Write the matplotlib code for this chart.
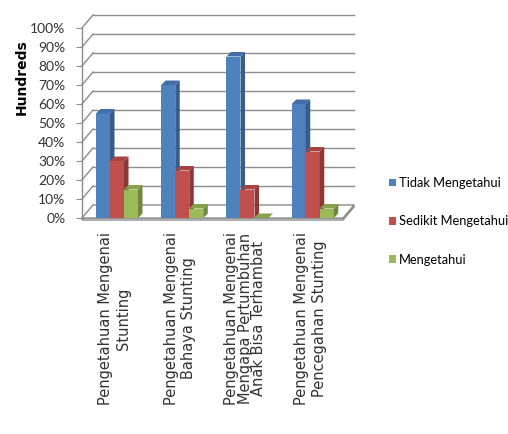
import matplotlib
matplotlib.use("Agg")
import matplotlib.pyplot as plt
from matplotlib.patches import Polygon, Patch

plt.rcParams['font.family'] = ['Lato', 'DejaVu Sans']

categories = [
    "Pengetahuan Mengenai\nStunting",
    "Pengetahuan Mengenai\nBahaya Stunting",
    "Pengetahuan Mengenai\nMengapa Pertumbuhan\nAnak Bisa Terhambat",
    "Pengetahuan Mengenai\nPencegahan Stunting",
]
series_names = ["Tidak Mengetahui", "Sedikit Mengetahui", "Mengetahui"]
tidak = [0.55, 0.70, 0.85, 0.60]
sedikit = [0.30, 0.25, 0.15, 0.35]
tahu = [0.15, 0.05, 0.00, 0.05]
yticks = [0.0, 0.1, 0.2, 0.3, 0.4, 0.5, 0.6, 0.7, 0.8, 0.9, 1.0]
ytick_labels = ["0%", "10%", "20%", "30%", "40%", "50%", "60%", "70%", "80%", "90%", "100%"]

# front, side, top colours (Office 2007 style)
colors = [
    ("#4F81BD", "#385D8A", "#416EA6"),
    ("#C0504D", "#8C3836", "#A64441"),
    ("#9BBB59", "#71893F", "#86A24B"),
]

W, H = 508, 434
fig = plt.figure(figsize=(W / 100, H / 100), dpi=100)
ax_l, ax_r, ax_b, ax_t = 82, 343, 218, 28
ax = fig.add_axes([ax_l / W, (H - ax_b) / H, (ax_r - ax_l) / W, (ax_b - ax_t) / H])
ax.set_xlim(-0.5, 3.5)
ax.set_ylim(0, 1)

# pixel -> data unit
ux = 4.0 / (ax_r - ax_l)
uy = 1.0 / (ax_b - ax_t)
wdx, wdy = 11 * ux, 13 * uy      # wall depth
bdx, bdy = 4.5 * ux, 4.5 * uy    # bar depth

grid_c = "#8C8C8C"
x0, x1 = -0.5, 3.5

# floor
ax.add_patch(Polygon([(x0, 0), (x1, 0), (x1 + wdx, wdy), (x0 + wdx, wdy)],
                     closed=True, fc="white", ec=grid_c, lw=1, zorder=1, clip_on=False))
ax.add_patch(Polygon([(x0, 0), (x1, 0), (x1 + wdx, wdy), (x1 + wdx, wdy - 2 * uy),
                      (x1, -2 * uy), (x0, -2 * uy)],
                     closed=True, fc="white", ec=grid_c, lw=1, zorder=0.9, clip_on=False))

# walls: gridlines on the back and side
for t in yticks[1:]:
    ax.plot([x0, x0 + wdx], [t, t + wdy], color=grid_c, lw=1, zorder=1, clip_on=False)
    ax.plot([x0 + wdx, x1 + wdx], [t + wdy, t + wdy], color=grid_c, lw=1, zorder=1, clip_on=False)
ax.plot([x0, x0], [0, 1], color=grid_c, lw=1, zorder=1, clip_on=False)

# bars
bw = 14 * ux
start = -14 * ux + 0.5
series = [tidak, sedikit, tahu]
for i, vals in enumerate(series):
    front, side, top = colors[i]
    lefts = [c - start + i * bw for c in range(len(categories))]
    ax.bar(lefts, vals, width=bw, align="edge", color=front, lw=0, zorder=3 + i)
    for left, h in zip(lefts, vals):
        r = left + bw
        ax.add_patch(Polygon([(r, 0), (r + bdx, bdy), (r + bdx, h + bdy), (r, h)],
                             closed=True, fc=side, ec="none", zorder=3 + i))
        ax.add_patch(Polygon([(left, h), (r, h), (r + bdx, h + bdy), (left + bdx, h + bdy)],
                             closed=True, fc=top, ec="none", zorder=3 + i))

for s in ax.spines.values():
    s.set_visible(False)
ax.set_yticks(yticks)
ax.set_yticklabels(ytick_labels, fontsize=10, color="#333333")
ax.tick_params(axis="y", length=4, color=grid_c, pad=8)
ax.set_xticks(range(len(categories)))
ax.set_xticklabels(categories, rotation=90, fontsize=10.5, color="#333333",
                   va="top", ha="center", multialignment="center", linespacing=1.2,
                   family=["DejaVu Sans"])
ax.get_xticklabels()[2].set_linespacing(0.88)
ax.tick_params(axis="x", length=0, pad=10)

fig.text(22 / W, 1 - 77 / H, "Hundreds", rotation=90, ha="center", va="center",
         fontsize=10, weight="bold", family=["DejaVu Sans"])

handles = [Patch(fc=c[0], ec="none") for c in colors]
fig.legend(handles, series_names, loc="upper left", bbox_to_anchor=(389 / W, 1 - 177 / H),
           frameon=False, fontsize=9.3, handlelength=0.55, handleheight=0.55,
           handletextpad=0.2, labelspacing=2.05, borderaxespad=0, borderpad=0)

fig.savefig("out.png", dpi=100, facecolor="white")
